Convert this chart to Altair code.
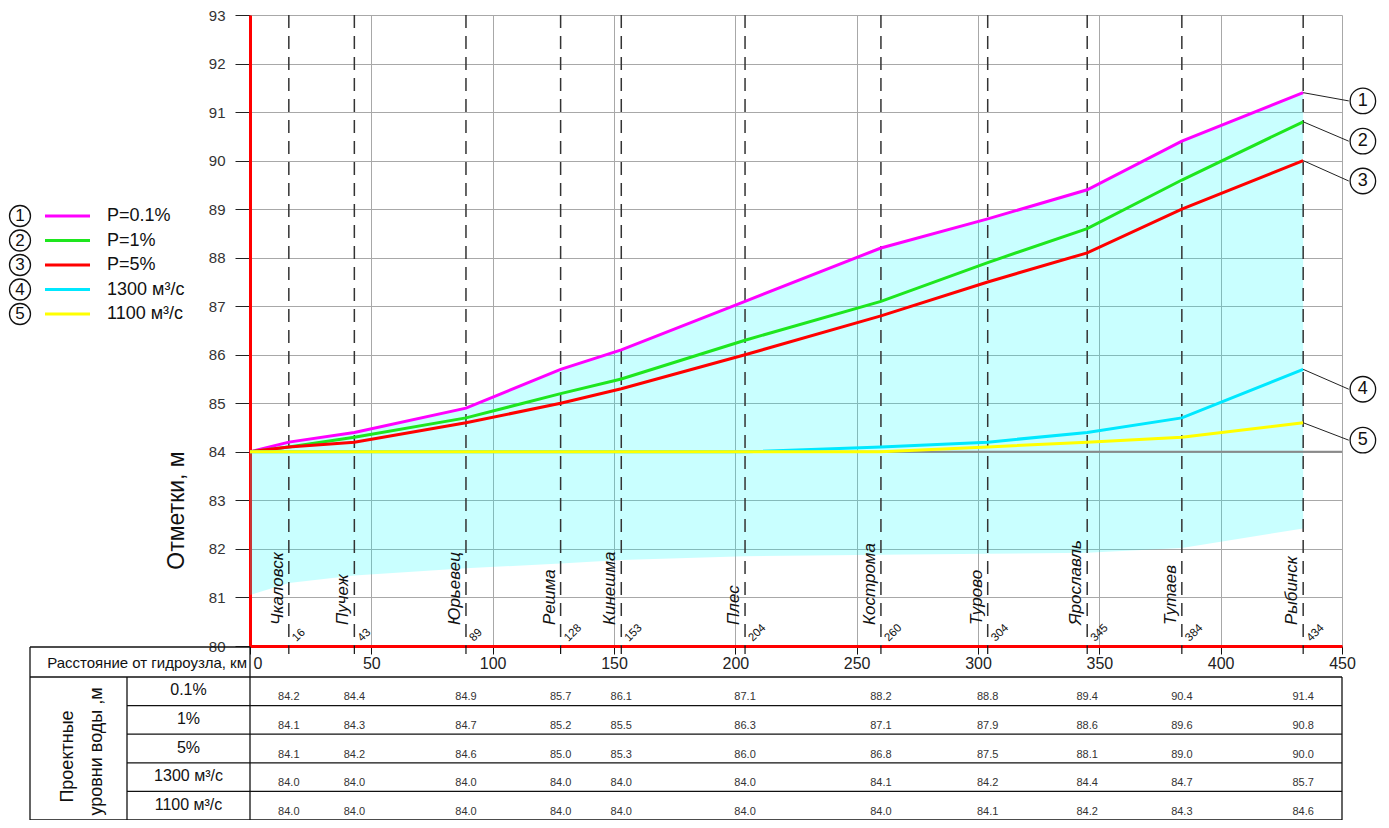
import altair as alt
import pandas as pd

# ---------------- data ----------------
km = [0, 16, 43, 89, 128, 153, 204, 260, 304, 345, 384, 434]
station_km = [16, 43, 89, 128, 153, 204, 260, 304, 345, 384, 434]
station_names = ["Чкаловск", "Пучеж", "Юрьевец", "Решма", "Кинешма", "Плес",
                 "Кострома", "Турово", "Ярославль", "Тутаев", "Рыбинск"]
lvl_p01 = [84.0, 84.2, 84.4, 84.9, 85.7, 86.1, 87.1, 88.2, 88.8, 89.4, 90.4, 91.4]
lvl_p1 = [84.0, 84.1, 84.3, 84.7, 85.2, 85.5, 86.3, 87.1, 87.9, 88.6, 89.6, 90.8]
lvl_p5 = [84.0, 84.1, 84.2, 84.6, 85.0, 85.3, 86.0, 86.8, 87.5, 88.1, 89.0, 90.0]
lvl_q1300 = [84.0, 84.0, 84.0, 84.0, 84.0, 84.0, 84.0, 84.1, 84.2, 84.4, 84.7, 85.7]
lvl_q1100 = [84.0, 84.0, 84.0, 84.0, 84.0, 84.0, 84.0, 84.0, 84.1, 84.2, 84.3, 84.6]
fill_lower = [81.05, 81.3, 81.45, 81.6, 81.7, 81.77, 81.85, 81.88, 81.9, 81.92, 82.02, 82.42]
series_names = ["P=0.1%", "P=1%", "P=5%", "1300 м³/с", "1100 м³/с"]
row_labels = ["0.1%", "1%", "5%", "1300 м³/с", "1100 м³/с"]
digits = ["1", "2", "3", "4", "5"]
x_ticks = [0, 50, 100, 150, 200, 250, 300, 350, 400, 450]
y_ticks = list(range(80, 94))
x_title_row = "Расстояние от гидроузла, км"
y_title = "Отметки, м"
group_title_1 = "Проектные"
group_title_2 = "уровни воды ,м"

levels = [lvl_p01, lvl_p1, lvl_p5, lvl_q1300, lvl_q1100]

# ---------------- style / layout ----------------
FONT = "Liberation Sans"
colors = ["#ff00ff", "#1ee61e", "#ff0000", "#00e8ff", "#ffff00"]
W, H = 1092, 631
callout_drop = [0.17, 0.40, 0.42, 0.41, 0.36]   # label offset below line end (m)
callout_x = 458.6
leader_x2 = 452.8
T0, R1, RH = 632, 662, 28.6          # table geometry in plot pixels
TL, TC = -220, -123                  # table left edge, label column edge

xs = alt.Scale(domain=[0, 450], nice=False, zero=False)
ys = alt.Scale(domain=[80, 93], nice=False, zero=False)
x_axis = alt.Axis(values=x_ticks, title=None, grid=True, gridColor="#a8a8a8",
                  domainColor="#ff0000", domainWidth=3, tickColor="#111",
                  tickSize=8, labelFontSize=16, labelPadding=1, labelColor="#222",
                  labelFlush=False,
                  labelAlign=alt.ConditionalAxisLabelAlign(
                      condition={"test": "datum.value == 0", "value": "left"},
                      value="center"),
                  labelOffset={"condition": {"test": "datum.value == 0", "value": 3},
                               "value": 0})
y_axis = alt.Axis(values=y_ticks, title=y_title, grid=True, gridColor="#a8a8a8",
                  domainColor="#ff0000", domainWidth=3, tickColor="#222",
                  tickSize=15, labelFontSize=15, labelPadding=10, labelColor="#333",
                  titleFontSize=23, titleFontWeight="normal", titleColor="#111",
                  titleX=-74, titleY=495, titleAngle=270, titleAlign="center",
                  titleBaseline="middle")
X = alt.X("km:Q", scale=xs, axis=x_axis)
Y = alt.Y("val:Q", scale=ys, axis=y_axis)

one = pd.DataFrame({"a": [0]})
layers = []

# filled zone
df_area = pd.DataFrame({"km": km, "val": lvl_p01, "low": fill_lower})
layers.append(alt.Chart(df_area).mark_area(color="#00ffff", opacity=0.21)
              .encode(x=X, y=Y, y2="low:Q"))

# gray 84 line
layers.append(alt.Chart(one).mark_rule(color="#8a8a8a", strokeWidth=2)
              .encode(x=alt.datum(0), x2=alt.datum(450), y=alt.datum(84)))

# dashed station lines
df_st = pd.DataFrame({"km": station_km, "name": station_names,
                      "kmtxt": [str(k) for k in station_km]})
layers.append(alt.Chart(df_st).mark_rule(color="#333", strokeDash=[13, 8], strokeWidth=1.5)
              .encode(x="km:Q", y=alt.datum(93), y2=alt.datum(80)))
layers.append(alt.Chart(df_st).mark_rule(color="#111", strokeWidth=1.2)
              .encode(x="km:Q", y=alt.value(H), y2=alt.value(H + 8)))

# level lines
for name, vals, col in zip(series_names, levels, colors):
    d = pd.DataFrame({"km": km, "val": vals})
    layers.append(alt.Chart(d).mark_line(color=col, strokeWidth=3)
                  .encode(x="km:Q", y="val:Q"))

# station names & km
layers.append(alt.Chart(df_st).mark_text(angle=270, align="left", baseline="bottom",
                                         fontStyle="italic", fontSize=17, font=FONT,
                                         color="#111", dy=-2)
              .encode(x="km:Q", y=alt.value(610), text="name:N"))
layers.append(alt.Chart(df_st).mark_text(angle=315, align="left", baseline="top",
                                         fontSize=11.5, font=FONT, color="#111", dx=2)
              .encode(x="km:Q", y=alt.value(622), text="kmtxt:N"))

# callouts on right
df_call = pd.DataFrame({"km": [km[-1]] * 5, "val": [v[-1] for v in levels],
                        "digit": digits})
df_call["lab"] = df_call["val"] - pd.Series(callout_drop)
layers.append(alt.Chart(df_call).mark_rule(color="#222", strokeWidth=1)
              .encode(x="km:Q", y="val:Q", x2=alt.datum(leader_x2), y2="lab:Q"))
layers.append(alt.Chart(df_call).mark_point(shape="circle", filled=True, fill="white",
                                            stroke="#111", strokeWidth=1.3, size=650, opacity=1)
              .encode(x=alt.datum(callout_x), y="lab:Q"))
layers.append(alt.Chart(df_call).mark_text(fontSize=18, font=FONT, color="#111",
                                           baseline="middle", align="center")
              .encode(x=alt.datum(callout_x), y="lab:Q", text="digit:N"))

# legend on left
df_leg = pd.DataFrame({"name": series_names, "digit": digits, "i": range(5)})
df_leg["py"] = 201 + 24.5 * df_leg["i"]
cscale = alt.Scale(domain=series_names, range=colors)
layers.append(alt.Chart(df_leg).mark_point(shape="circle", filled=True, fill="white",
                                           stroke="#111", strokeWidth=1.3, size=440, opacity=1)
              .encode(x=alt.value(-230), y=alt.Y("py:Q", scale=None)))
layers.append(alt.Chart(df_leg).mark_text(fontSize=17, font=FONT, color="#111",
                                          baseline="middle", align="center")
              .encode(x=alt.value(-230), y=alt.Y("py:Q", scale=None), text="digit:N"))
layers.append(alt.Chart(df_leg).mark_rule(strokeWidth=3)
              .encode(x=alt.value(-205), x2=alt.value(-160), y=alt.Y("py:Q", scale=None),
                      color=alt.Color("name:N", scale=cscale, legend=None)))
layers.append(alt.Chart(df_leg).mark_text(fontSize=18, font=FONT, color="#111",
                                          baseline="middle", align="left")
              .encode(x=alt.value(-143), y=alt.Y("py:Q", scale=None), text="name:N"))

# table grid lines
bottom = R1 + 5 * RH
tl = [(TL, T0, 0, T0), (TL, R1, W, R1)]
tl += [(TC, R1 + RH * k, W, R1 + RH * k) for k in range(1, 5)]
tl += [(TL, bottom, W, bottom), (TL, T0, TL, bottom), (TC, R1, TC, bottom),
       (0, T0, 0, bottom), (W, R1, W, bottom)]
df_tl = pd.DataFrame(tl, columns=["x1", "y1", "x2", "y2"])
layers.append(alt.Chart(df_tl).mark_rule(color="#111", strokeWidth=1.3)
              .encode(x=alt.X("x1:Q", scale=None), x2="x2:Q",
                      y=alt.Y("y1:Q", scale=None), y2="y2:Q"))

# table texts
rows = []
for i, vals in enumerate(levels):
    for k, v in zip(station_km, vals[1:]):
        rows.append({"km": k, "txt": f"{v:.1f}", "py": R1 + RH * (i + 0.5) + 6})
df_tv = pd.DataFrame(rows)
layers.append(alt.Chart(df_tv).mark_text(fontSize=11, font=FONT, color="#333",
                                         baseline="middle", align="center")
              .encode(x="km:Q", y=alt.Y("py:Q", scale=None), text="txt:N"))

df_rl = pd.DataFrame({"txt": row_labels, "i": range(5)})
df_rl["py"] = R1 + RH * (df_rl["i"] + 0.5) - 1
layers.append(alt.Chart(df_rl).mark_text(fontSize=16, font=FONT, color="#111",
                                         baseline="middle", align="center")
              .encode(x=alt.value((TC + 0) / 2), y=alt.Y("py:Q", scale=None), text="txt:N"))

mid = (R1 + bottom) / 2
layers.append(alt.Chart(one).mark_text(fontSize=18, font=FONT, color="#111", angle=270,
                                       baseline="middle", align="center", text=group_title_1)
              .encode(x=alt.value(-182), y=alt.value(mid + 8)))
layers.append(alt.Chart(one).mark_text(fontSize=18, font=FONT, color="#111", angle=270,
                                       baseline="middle", align="center", text=group_title_2)
              .encode(x=alt.value(-153), y=alt.value(mid + 3)))
layers.append(alt.Chart(one).mark_text(fontSize=15, font=FONT, color="#111",
                                       baseline="middle", align="right", text=x_title_row)
              .encode(x=alt.value(-3), y=alt.value((T0 + R1) / 2 + 1)))

chart = alt.layer(*layers).properties(
    width=W, height=H,
    autosize=alt.AutoSizeParams(type="none"),
    padding={"left": 242, "top": 7, "right": 38, "bottom": 174},
    background="white",
).configure_view(stroke=None).configure_axis(labelFont=FONT, titleFont=FONT)

chart.save("out.html", embed_options={"renderer": "svg", "actions": False})
